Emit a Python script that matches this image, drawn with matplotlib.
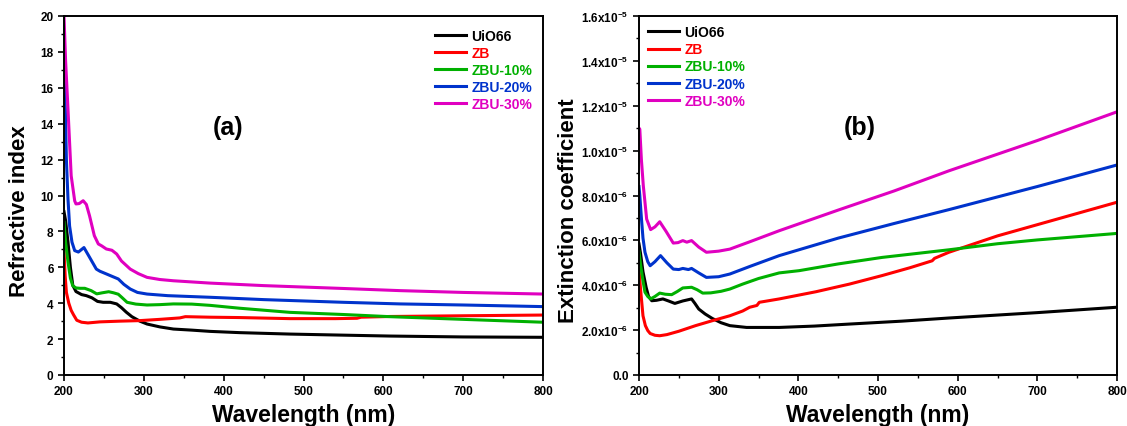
import numpy as np
import matplotlib
matplotlib.use("Agg")
import matplotlib.pyplot as plt
from matplotlib.ticker import MultipleLocator, FuncFormatter
import math

plt.rcParams['font.family'] = ['Liberation Sans', 'DejaVu Sans']
plt.rcParams['font.weight'] = 'bold'
plt.rcParams['mathtext.default'] = 'regular'

labels = ["UiO66", "ZB", "ZBU-10%", "ZBU-20%", "ZBU-30%"]
colors = ["#000000", "#FF0000", "#00B000", "#0033CC", "#E000C0"]

# ---- Panel (a): refractive index ----
a_uio_x = [200, 202, 205, 208, 211, 215, 222, 228, 235, 242, 249, 258, 266, 272, 278, 285, 295, 304, 320, 337, 360, 383, 420, 483, 550, 608, 700, 800]
a_uio_y = [9.1, 8.6, 7.4, 6.0, 5.0, 4.65, 4.48, 4.42, 4.3, 4.1, 4.05, 4.05, 3.96, 3.75, 3.5, 3.25, 3.0, 2.84, 2.68, 2.56, 2.5, 2.43, 2.36, 2.28, 2.22, 2.17, 2.12, 2.1]

a_zb_x = [200, 201.5, 203, 206, 209, 212, 216, 222, 230, 245, 270, 295, 320, 345, 352, 383, 420, 483, 540, 567, 572, 608, 700, 800]
a_zb_y = [6.9, 5.5, 4.6, 4.0, 3.6, 3.35, 3.05, 2.94, 2.9, 2.96, 3.0, 3.03, 3.1, 3.18, 3.25, 3.22, 3.2, 3.14, 3.14, 3.16, 3.22, 3.26, 3.3, 3.34]

a_z10_x = [200, 202, 205, 208, 211, 215, 220, 226, 234, 241, 248, 256, 262, 268, 273, 279, 290, 304, 320, 337, 360, 383, 420, 483, 550, 608, 700, 800]
a_z10_y = [8.5, 7.4, 6.3, 5.4, 4.97, 4.85, 4.83, 4.83, 4.7, 4.52, 4.58, 4.64, 4.58, 4.5, 4.3, 4.05, 3.95, 3.9, 3.92, 3.96, 3.95, 3.88, 3.72, 3.49, 3.37, 3.25, 3.1, 2.94]

a_z20_x = [200, 201.7, 203, 205, 207, 210, 213.4, 218, 225, 232, 240.5, 245, 252, 260, 268, 275, 283, 292, 304, 330, 383, 450, 550, 621, 700, 800]
a_z20_y = [16.7, 14.8, 12.0, 9.8, 8.3, 7.4, 6.93, 6.85, 7.1, 6.56, 5.9, 5.78, 5.65, 5.5, 5.35, 5.05, 4.79, 4.6, 4.51, 4.42, 4.33, 4.2, 4.05, 3.96, 3.9, 3.81]

a_z30_x = [200, 202, 205, 209, 213.4, 215, 219, 224, 228, 232, 238, 243, 247, 253, 260, 266, 272, 283, 293, 304, 320, 337, 383, 450, 550, 621, 700, 800]
a_z30_y = [20.0, 17.5, 14.8, 11.1, 9.7, 9.53, 9.55, 9.71, 9.5, 8.87, 7.76, 7.3, 7.2, 7.02, 6.95, 6.74, 6.35, 5.9, 5.65, 5.44, 5.32, 5.25, 5.12, 4.98, 4.82, 4.7, 4.6, 4.51]

# ---- Panel (b): extinction coefficient (units of 1e-6) ----
b_uio_x = [200, 202, 205, 209, 212, 216, 222, 230, 237, 245, 255, 266, 270, 275, 283, 292, 303, 314, 335, 376, 420, 464, 530, 589, 700, 800]
b_uio_y = [5.84, 5.4, 4.6, 3.9, 3.5, 3.31, 3.33, 3.39, 3.3, 3.19, 3.3, 3.39, 3.2, 2.94, 2.72, 2.52, 2.33, 2.2, 2.12, 2.12, 2.18, 2.27, 2.4, 2.54, 2.78, 3.02]

b_zb_x = [200, 202, 205, 208, 211, 214, 220, 226, 235, 250, 271, 292, 314, 330, 339, 348, 351, 376, 422, 464, 505, 540, 568, 571, 589, 650, 700, 750, 800]
b_zb_y = [4.7, 3.8, 2.64, 2.2, 1.98, 1.85, 1.77, 1.75, 1.8, 1.95, 2.2, 2.42, 2.64, 2.85, 3.02, 3.1, 3.24, 3.39, 3.71, 4.05, 4.43, 4.78, 5.09, 5.2, 5.47, 6.2, 6.7, 7.2, 7.7]

b_z10_x = [200, 202, 205, 207.5, 211, 214.6, 220, 226, 233, 241, 248, 255, 266, 273, 280, 290, 303, 314, 330, 350, 376, 401, 450, 505, 589, 650, 700, 800]
b_z10_y = [5.5, 4.9, 4.2, 3.69, 3.5, 3.39, 3.5, 3.65, 3.6, 3.58, 3.72, 3.88, 3.91, 3.8, 3.65, 3.66, 3.73, 3.83, 4.05, 4.3, 4.55, 4.65, 4.95, 5.24, 5.58, 5.85, 6.02, 6.31]

b_z20_x = [200, 201, 203, 205, 207.5, 211, 214, 220, 227, 235, 243, 250, 255, 262, 266, 275, 284.6, 300, 314, 340, 376, 450, 520, 589, 700, 800]
b_z20_y = [8.4, 8.0, 7.0, 6.1, 5.47, 5.05, 4.87, 5.05, 5.32, 5.0, 4.72, 4.7, 4.75, 4.7, 4.75, 4.55, 4.35, 4.38, 4.5, 4.85, 5.32, 6.1, 6.75, 7.37, 8.4, 9.36]

b_z30_x = [200, 201, 203, 205.4, 209.6, 214.6, 220, 226, 234, 243, 249, 255, 260, 266, 275, 284.6, 300, 314, 340, 376, 450, 520, 589, 700, 800]
b_z30_y = [11.0, 10.96, 9.6, 8.44, 6.95, 6.48, 6.6, 6.83, 6.4, 5.88, 5.9, 5.99, 5.92, 5.99, 5.7, 5.47, 5.52, 5.61, 5.95, 6.43, 7.35, 8.2, 9.1, 10.45, 11.73]

a_series = [(a_uio_x, a_uio_y), (a_zb_x, a_zb_y), (a_z10_x, a_z10_y), (a_z20_x, a_z20_y), (a_z30_x, a_z30_y)]
b_series = [(b_uio_x, b_uio_y), (b_zb_x, b_zb_y), (b_z10_x, b_z10_y), (b_z20_x, b_z20_y), (b_z30_x, b_z30_y)]

fig = plt.figure(figsize=(11.27, 4.27), dpi=100)
axA = fig.add_axes([64/1127, 1-376/427, 479/1127, 359/427])
axB = fig.add_axes([639/1127, 1-376/427, 478/1127, 359/427])

lw = 2.2
for (x, y), c, lab in zip(a_series, colors, labels):
    axA.plot(x, y, color=c, lw=lw, label=lab, solid_joinstyle='round')
for (x, y), c, lab in zip(b_series, colors, labels):
    axB.plot(x, np.array(y) * 1e-6, color=c, lw=lw, label=lab, solid_joinstyle='round')

def sci_fmt(v, pos):
    if abs(v) < 1e-12:
        return "0.0"
    e = int(math.floor(math.log10(abs(v)) + 1e-9))
    m = v / 10**e
    return f"{m:.1f}x10$^{{{e}}}$"

for ax in (axA, axB):
    ax.set_xlim(200, 800)
    ax.xaxis.set_major_locator(MultipleLocator(100))
    ax.xaxis.set_minor_locator(MultipleLocator(50))
    ax.tick_params(which='major', direction='out', length=4, width=1.2, labelsize=8.5, top=False, right=False)
    ax.tick_params(which='minor', direction='out', length=2.5, width=1.0, top=False, right=False)
    for s in ax.spines.values():
        s.set_linewidth(1.4)
    for t in ax.get_xticklabels() + ax.get_yticklabels():
        t.set_fontweight('bold')
    ax.set_xlabel("Wavelength (nm)", fontsize=16.5, fontweight='bold', labelpad=4)

axA.set_ylim(0, 20)
axA.yaxis.set_major_locator(MultipleLocator(2))
axA.yaxis.set_minor_locator(MultipleLocator(1))
axA.set_ylabel("Refractive index", fontsize=16, fontweight='bold')
axA.yaxis.set_label_coords(-0.071, 0.46)
axA.text(405, 13.8, "(a)", fontsize=18, fontweight='bold', ha='center', va='center')

axB.set_ylim(0, 1.6e-5)
axB.yaxis.set_major_locator(MultipleLocator(2e-6))
axB.yaxis.set_minor_locator(MultipleLocator(1e-6))
axB.yaxis.set_major_formatter(FuncFormatter(sci_fmt))
axB.set_ylabel("Extinction coefficient", fontsize=16, fontweight='bold')
axB.yaxis.set_label_coords(-0.125, 0.46)
axB.text(477, 11.05e-6, "(b)", fontsize=18, fontweight='bold', ha='center', va='center')

for ax, anchor in ((axA, (0.775, 0.965)), (axB, (0.019, 0.974))):
    leg = ax.legend(loc='upper left', bbox_to_anchor=anchor, frameon=False,
                    prop={'weight': 'bold', 'size': 10}, handlelength=2.2,
                    handletextpad=0.4, labelspacing=0.22, borderpad=0, borderaxespad=0,
                    labelcolor='linecolor')

fig.savefig("out.png", dpi=100)
